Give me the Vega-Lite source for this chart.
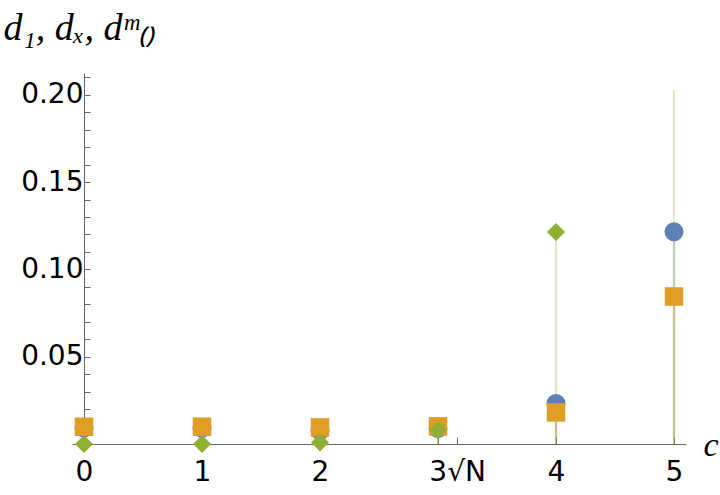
{
  "$schema": "https://vega.github.io/schema/vega-lite/v6.json",
  "width": 614,
  "height": 377,
  "autosize": {"type": "none"},
  "padding": {"left": 72, "top": 73, "right": 34, "bottom": 45},
  "background": "white",
  "config": {"view": {"stroke": null}},
  "datasets": {
    "pts": [
      {"c": 0, "series": "d1", "v": 0.0092},
      {"c": 1, "series": "d1", "v": 0.0090},
      {"c": 2, "series": "d1", "v": 0.0077},
      {"c": 3, "series": "d1", "v": 0.0088},
      {"c": 4, "series": "d1", "v": 0.0232},
      {"c": 5, "series": "d1", "v": 0.1216},
      {"c": 0, "series": "dX", "v": 0.0099},
      {"c": 1, "series": "dX", "v": 0.0099},
      {"c": 2, "series": "dX", "v": 0.0095},
      {"c": 3, "series": "dX", "v": 0.0101},
      {"c": 4, "series": "dX", "v": 0.0181},
      {"c": 5, "series": "dX", "v": 0.0845},
      {"c": 0, "series": "dm", "v": 0.0},
      {"c": 1, "series": "dm", "v": 0.0},
      {"c": 2, "series": "dm", "v": 0.0008},
      {"c": 3, "series": "dm", "v": 0.0080},
      {"c": 4, "series": "dm", "v": 0.1214},
      {"c": 5, "series": "dm", "v": 0.2027}
    ]
  },
  "data": {"name": "pts"},
  "layer": [
    {
      "mark": {"type": "rule", "strokeWidth": 2.2, "opacity": 0.28},
      "encoding": {
        "x": {"field": "c", "type": "quantitative"},
        "y": {"field": "v", "type": "quantitative"},
        "y2": {"datum": 0},
        "color": {"field": "series", "type": "nominal", "scale": {"domain": ["d1", "dX", "dm"], "range": ["#5E81B5", "#E19C24", "#8FB032"]}, "legend": null}
      }
    },
    {
      "transform": [{"filter": "datum.v < 0.2"}],
      "mark": {"type": "point", "filled": true, "opacity": 1, "strokeWidth": 0},
      "encoding": {
        "x": {
          "field": "c", "type": "quantitative",
          "scale": {"domain": [-0.1017, 5.1017], "nice": false, "zero": false},
          "axis": {
            "offset": -6,
            "values": [0, 1, 2, 3, 3.1623, 4, 5],
            "tickCount": 100,
            "labelExpr": "datum.value == 3 ? '' : (abs(datum.value - 3.1623) < 0.01 ? '3√N' : format(datum.value, 'd'))",
            "grid": false,
            "domainColor": "#666666",
            "tickColor": "#666666",
            "tickSize": -7,
            "labelPadding": 21,
            "labelFont": "DejaVu Sans",
            "labelFontSize": 28,
            "labelColor": "black",
            "labelFlush": false,
            "labelOverlap": false,
            "title": "c",
            "titleFont": "Liberation Serif",
            "titleFontStyle": "italic",
            "titleFontWeight": "normal",
            "titleFontSize": 34,
            "titleColor": "black",
            "titleAlign": "left",
            "titleBaseline": "alphabetic",
            "titleAnchor": null,
            "titleX": 631,
            "titleY": 11
          }
        },
        "y": {
          "field": "v", "type": "quantitative",
          "scale": {"domain": [-0.00344, 0.2125], "nice": false, "zero": false},
          "axis": {
            "offset": -12,
            "values": [0.01, 0.02, 0.03, 0.04, 0.05, 0.06, 0.07, 0.08, 0.09, 0.1, 0.11, 0.12, 0.13, 0.14, 0.15, 0.16, 0.17, 0.18, 0.19, 0.2, 0.21],
            "tickCount": 100,
            "labelExpr": "indexof([5, 10, 15, 20], round(datum.value * 100)) >= 0 ? format(datum.value, '.2f') : ''",
            "grid": false,
            "domainColor": "#666666",
            "tickColor": "#666666",
            "tickSize": -6,
            "labelPadding": 7,
            "labelFont": "DejaVu Sans",
            "labelFontSize": 28,
            "labelColor": "black",
            "labelFlush": false,
            "labelOverlap": false,
            "title": "d₁, dₓ, dᵐ₍₎",
            "titleFont": "Liberation Serif",
            "titleFontStyle": "italic",
            "titleFontWeight": "normal",
            "titleFontSize": 38,
            "titleColor": "black",
            "titleAngle": 0,
            "titleAlign": "left",
            "titleBaseline": "alphabetic",
            "titleAnchor": null,
            "titleX": -81,
            "titleY": -34
          }
        },
        "color": {"field": "series", "type": "nominal", "scale": {"domain": ["d1", "dX", "dm"], "range": ["#5E81B5", "#E19C24", "#8FB032"]}, "legend": null},
        "shape": {"field": "series", "type": "nominal", "scale": {"domain": ["d1", "dX", "dm"], "range": ["circle", "square", "diamond"]}, "legend": null},
        "size": {"field": "series", "type": "nominal", "scale": {"domain": ["d1", "dX", "dm"], "range": [361, 324, 324]}, "legend": null}
      }
    }
  ]
}
